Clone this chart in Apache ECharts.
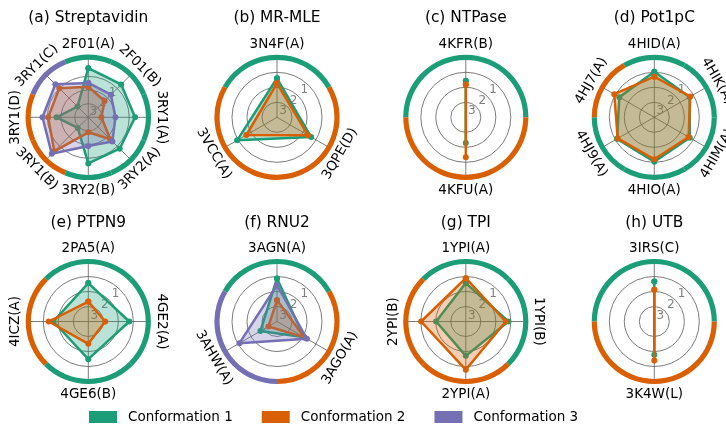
<!DOCTYPE html>
<html>
<head>
<meta charset="utf-8">
<script src="https://cdn.jsdelivr.net/npm/echarts@6/dist/echarts.min.js"></script>
<style>html,body{margin:0;padding:0;background:#fff}#c{width:726px;height:425px}</style>
</head>
<body>
<div id="c"></div>
<script>
// ---------- DATA ----------
const conformationNames = ['Conformation 1', 'Conformation 2', 'Conformation 3'];
const panelTitles = ['(a) Streptavidin', '(b) MR-MLE', '(c) NTPase', '(d) Pot1pC',
                     '(e) PTPN9', '(f) RNU2', '(g) TPI', '(h) UTB'];
const radialTicks = [1, 2, 3];
const radialTickLabels = ['1', '2', '3'];

// (a) Streptavidin
const strepAxes = ['2F01(A)', '2F01(B)', '3RY1(A)', '3RY2(A)', '3RY2(B)', '3RY1(B)', '3RY1(D)', '3RY1(C)'];
const strepConf = [1, 1, 1, 1, 1, 2, 2, 3];
const strepC1 = [0.40, 0.59, 0.57, 0.74, 0.62, 2.90, 1.67, 2.88];
const strepC2 = [1.76, 2.31, 3.04, 1.72, 2.90, 0.47, 1.06, 0.99];
const strepC3 = [1.48, 1.65, 2.01, 1.50, 1.89, 0.21, 0.64, 0.58];
// (b) MR-MLE
const mrAxes = ['3N4F(A)', '3QPE(D)', '3VCC(A)'];
const mrConf = [1, 2, 2];
const mrC1 = [1.40, 1.37, 0.93];
const mrC2 = [1.73, 1.62, 1.64];
// (c) NTPase
const ntAxes = ['4KFR(B)', '4KFU(A)'];
const ntConf = [1, 2];
const ntC1 = [1.56, 2.29];
const ntC2 = [1.82, 1.33];
// (d) Pot1pC
const potAxes = ['4HID(A)', '4HIK(A)', '4HIM(A)', '4HIO(A)', '4HJ9(A)', '4HJ7(A)'];
const potConf = [1, 1, 1, 1, 1, 2];
const potC1 = [0.96, 1.28, 1.27, 1.04, 1.13, 1.31];
const potC2 = [1.29, 1.23, 1.36, 1.20, 1.18, 0.92];
// (e) PTPN9
const ptpAxes = ['2PA5(A)', '4GE2(A)', '4GE6(B)', '4ICZ(A)'];
const ptpConf = [1, 1, 1, 2];
const ptpC1 = [1.44, 1.27, 1.49, 1.67];
const ptpC2 = [2.67, 2.87, 2.51, 1.36];
// (f) RNU2
const rnuAxes = ['3AGN(A)', '3AGO(A)', '3AHW(A)'];
const rnuConf = [1, 2, 3];
const rnuC1 = [1.13, 1.91, 2.72];
const rnuC2 = [2.58, 1.88, 3.34];
const rnuC3 = [1.58, 1.70, 1.11];
// (g) TPI
const tpiAxes = ['1YPI(A)', '1YPI(B)', '2YPI(A)', '2YPI(B)'];
const tpiConf = [1, 1, 2, 2];
const tpiC1 = [1.44, 1.16, 1.71, 2.02];
const tpiC2 = [1.11, 1.33, 0.78, 1.02];
// (h) UTB
const utbAxes = ['3IRS(C)', '3K4W(L)'];
const utbConf = [1, 2];
const utbC1 = [1.33, 1.78];
const utbC2 = [1.89, 1.40];

// radial scale per panel (inverted: max at center, min at rim)
const radialMin = [-0.4, 0, 0, 0, 0, 0, 0, 0];
const radialMax = [4, 4, 4, 4, 4, 4, 4, 4];

// ---------- LAYOUT / STYLE ----------
const COLORS = ['#1b9e77', '#d95f02', '#7570b3'];
const FONT = 'DejaVu Sans, Noto Sans, sans-serif';
const GRID = '#5a5a5a';
const colX = [88.3, 277, 465.8, 654.3];
const rowY = [117.3, 321.5];
const titleOffset = 99;
const R = 60;

const panels = [
  {axes: strepAxes, conf: strepConf, series: [strepC1, strepC2, strepC3]},
  {axes: mrAxes, conf: mrConf, series: [mrC1, mrC2]},
  {axes: ntAxes, conf: ntConf, series: [ntC1, ntC2]},
  {axes: potAxes, conf: potConf, series: [potC1, potC2]},
  {axes: ptpAxes, conf: ptpConf, series: [ptpC1, ptpC2]},
  {axes: rnuAxes, conf: rnuConf, series: [rnuC1, rnuC2, rnuC3]},
  {axes: tpiAxes, conf: tpiConf, series: [tpiC1, tpiC2]},
  {axes: utbAxes, conf: utbConf, series: [utbC1, utbC2]}
];

function tangentRotation(theta) {
  let r = ((-theta % 360) + 360) % 360;
  if (r > 90 && r < 270) r -= 180;
  else if (r >= 270) r -= 360;
  return r * Math.PI / 180;
}

const polar = [], angleAxis = [], radiusAxis = [], series = [], graphic = [];

panels.forEach((p, pi) => {
  const n = p.axes.length;
  const step = 360 / n;
  const cx = colX[pi % 4], cy = rowY[Math.floor(pi / 4)];
  polar.push({center: [cx, cy], radius: R});
  angleAxis.push({
    polarIndex: pi, type: 'value', min: 0, max: 360, interval: step,
    startAngle: 90, clockwise: true,
    axisLine: {show: false}, axisTick: {show: false}, axisLabel: {show: false},
    splitLine: {show: true, lineStyle: {color: GRID, width: 0.8}}
  });
  radiusAxis.push({
    polarIndex: pi, type: 'value', min: radialMin[pi], max: radialMax[pi], inverse: true,
    axisLine: {show: false}, axisTick: {show: false}, axisLabel: {show: false},
    splitLine: {show: false}
  });

  // grid circles + radial tick labels
  series.push({
    type: 'custom', coordinateSystem: 'polar', polarIndex: pi, silent: true, z: 1,
    data: radialTicks.map(v => [v, 45]),
    renderItem: function (params, api) {
      const cs = params.coordSys;
      const pt = api.coord([api.value(0), api.value(1)]);
      const dx = pt[0] - cs.cx, dy = pt[1] - cs.cy;
      const rad = Math.sqrt(dx * dx + dy * dy);
      const ux = dx / rad, uy = dy / rad;
      return {
        type: 'group', children: [
          {type: 'circle', shape: {cx: cs.cx, cy: cs.cy, r: rad},
           style: {fill: 'none', stroke: GRID, lineWidth: 0.8}},
          {type: 'text', x: pt[0] - ux * 6.5, y: pt[1] - uy * 6.5,
           style: {text: radialTickLabels[params.dataIndex], fill: '#808080',
                   font: '12px ' + FONT, align: 'center', verticalAlign: 'middle'}}
        ]
      };
    }
  });

  // conformation polygons
  p.series.forEach((vals, ci) => {
    const data = vals.map((v, i) => [v, i * step]);
    data.push([vals[0], 360]);
    series.push({
      type: 'line', name: conformationNames[ci], coordinateSystem: 'polar', polarIndex: pi,
      data: data, symbol: 'circle', symbolSize: 6, showSymbol: true, silent: true,
      z: 3 + ci, clip: false,
      lineStyle: {color: COLORS[ci], width: 2.5},
      itemStyle: {color: COLORS[ci]},
      areaStyle: {color: COLORS[ci], opacity: 0.3, origin: 'end'}
    });
  });

  // outer conformation ring
  series.push({
    type: 'pie', center: [cx, cy], radius: [R - 2.6, R + 2.6],
    startAngle: 90 + step / 2, clockwise: true, silent: true, z: 6,
    label: {show: false}, labelLine: {show: false},
    emphasis: {disabled: true},
    itemStyle: {borderWidth: 0},
    data: p.axes.map((name, i) => ({value: 1, name: name,
      itemStyle: {color: COLORS[p.conf[i] - 1], borderWidth: 0}}))
  });

  // axis name labels (tangential)
  series.push({
    type: 'custom', coordinateSystem: 'polar', polarIndex: pi, silent: true, z: 7,
    data: p.axes.map((_, i) => [radialMin[pi], i * step]),
    renderItem: function (params, api) {
      const cs = params.coordSys;
      const theta = api.value(1);
      const pt = api.coord([api.value(0), theta]);
      const dx = pt[0] - cs.cx, dy = pt[1] - cs.cy;
      const rad = Math.sqrt(dx * dx + dy * dy);
      const k = (rad + 12.8) / rad;
      return {
        type: 'text', x: cs.cx + dx * k, y: cs.cy + dy * k, rotation: tangentRotation(theta),
        style: {text: p.axes[params.dataIndex], fill: '#000', font: '13.5px ' + FONT,
                align: 'center', verticalAlign: 'middle'}
      };
    }
  });

  graphic.push({
    type: 'text', x: cx, y: cy - titleOffset, silent: true,
    style: {text: panelTitles[pi], fill: '#000', font: '15.4px ' + FONT,
            align: 'center', verticalAlign: 'middle'}
  });
});

const chart = echarts.init(document.getElementById('c'), null, {renderer: 'canvas'});
chart.setOption({
  animation: false,
  backgroundColor: '#fff',
  polar: polar,
  angleAxis: angleAxis,
  radiusAxis: radiusAxis,
  legend: {
    data: conformationNames, left: 89, top: 410, padding: 0,
    icon: 'rect', itemWidth: 28, itemHeight: 12, itemGap: 29,
    textStyle: {fontSize: 13.5, fontFamily: FONT, color: '#000', padding: [0, 0, 0, 6]},
    selectedMode: false
  },
  graphic: graphic,
  series: series
});
</script>
</body>
</html>
